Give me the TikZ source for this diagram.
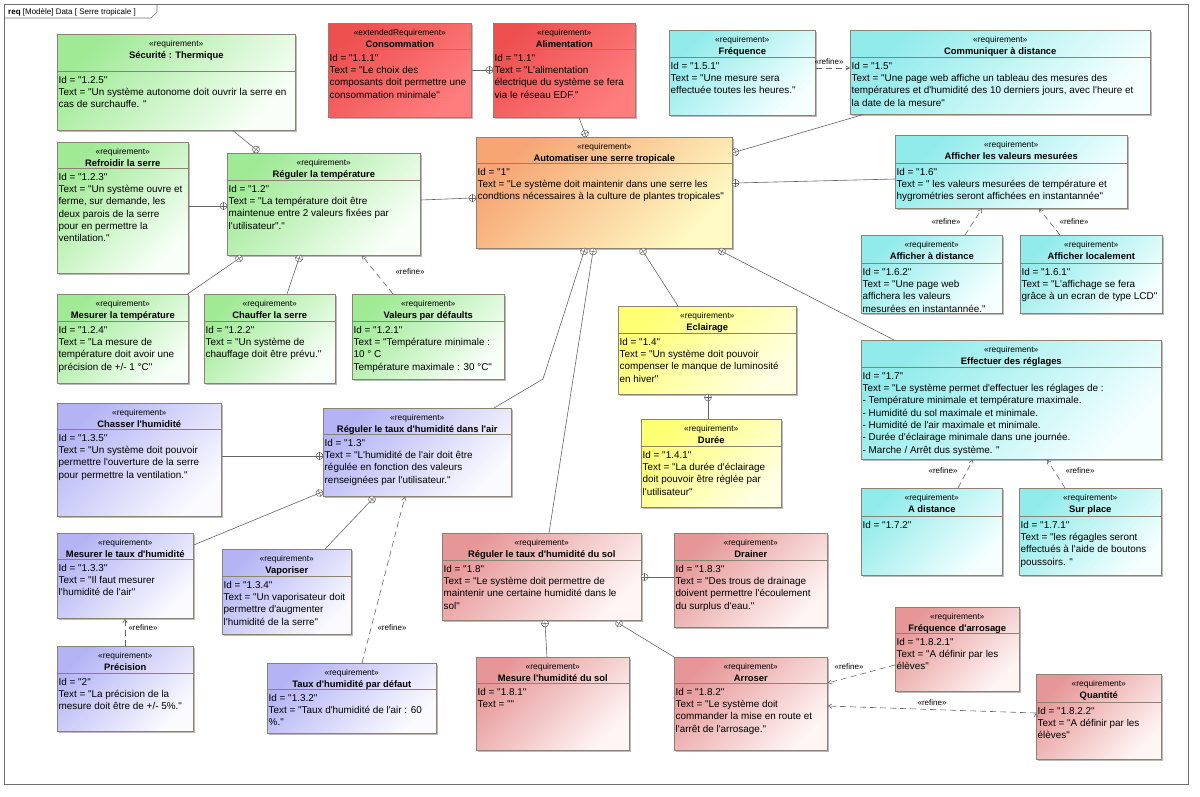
\documentclass[tikz,border=0pt]{standalone}
\usepackage{fontspec}
\newfontfamily\reqfont{Liberation Sans}
\usepackage{tikz}
\usetikzlibrary{arrows,shadows}

\definecolor{boxc}{RGB}{140,130,115}
\definecolor{linec}{RGB}{100,100,100}
\definecolor{framec}{RGB}{110,110,110}
\definecolor{grA}{RGB}{160,234,150}
\definecolor{grB}{RGB}{248,255,248}
\definecolor{rdA}{RGB}{238,80,80}
\definecolor{rdB}{RGB}{255,125,125}
\definecolor{orA}{RGB}{246,165,115}
\definecolor{orB}{RGB}{255,250,195}
\definecolor{cyA}{RGB}{145,235,235}
\definecolor{cyB}{RGB}{245,255,255}
\definecolor{blA}{RGB}{180,180,245}
\definecolor{blB}{RGB}{250,250,255}
\definecolor{ylA}{RGB}{255,255,115}
\definecolor{ylB}{RGB}{255,255,228}
\definecolor{pkA}{RGB}{230,150,150}
\definecolor{pkB}{RGB}{255,245,245}

% name, position, width, height, header, colour, stereotype, title, text
\newcommand{\reqbox}[9]{%
  \node[req,#6,minimum width=#3pt,minimum height=#4pt] (#1) at (#2) {};
  \draw[sep] ([yshift=-#5pt]#1.north west) -- ([yshift=-#5pt]#1.north east);
  \node[stereo] (#1-st) at ([yshift=-12pt]#1.north) {«#7»};
  \node[rtitle] (#1-ti) at ([yshift=-24pt]#1.north) {#8};
  \node[rtext] (#1-tx) at ([xshift=1.5pt,yshift={-(#5pt+3.5pt)}]#1.north west) {\rule{0pt}{8.5pt}#9};
}
\newcommand{\contain}[3]{%
  \node[contain,rotate=#3] (#1) at (#2) {};
  \draw[linec,line width=0.5pt] (#1.north) -- (#1.south) (#1.east) -- (#1.west);
}

\begin{document}
\begin{tikzpicture}[x=1pt,y=-1pt,>=angle 60,
    req/.style={rectangle,draw=boxc,line width=0.6pt,inner sep=0pt,anchor=north west,
      drop shadow={shadow xshift=2pt,shadow yshift=-2pt,fill=black!45,opacity=0.6}},
    sep/.style={draw=boxc,line width=0.6pt},
    reqgreen/.style={top color=grA,bottom color=grB,shading angle=45},
    reqred/.style={top color=rdA,bottom color=rdB,shading angle=45},
    reqorange/.style={top color=orA,bottom color=orB,shading angle=45},
    reqcyan/.style={top color=cyA,bottom color=cyB,shading angle=45},
    reqblue/.style={top color=blA,bottom color=blB,shading angle=45},
    reqyellow/.style={top color=ylA,bottom color=ylB,shading angle=45},
    reqpink/.style={top color=pkA,bottom color=pkB,shading angle=45},
    stereo/.style={anchor=base,inner sep=0pt,font=\reqfont\fontsize{8.4}{9}\selectfont},
    rtitle/.style={anchor=base,inner sep=0pt,font=\reqfont\bfseries\fontsize{9.4}{10}\selectfont},
    rtext/.style={anchor=north west,inner sep=0pt,align=left,font=\reqfont\fontsize{9.9}{12.3}\selectfont},
    contain/.style={circle,draw=linec,fill=white,line width=0.5pt,inner sep=0pt,minimum size=7pt},
    conn/.style={draw=linec,line width=0.6pt},
    refine/.style={draw=linec,line width=0.6pt,dash pattern=on 6pt off 4pt,->},
    refl/.style={inner sep=0pt,font=\reqfont\fontsize{8}{8}\selectfont}]
  \useasboundingbox (0,0) rectangle (1200,796);
  \draw[framec,line width=0.6pt] (4,4) rectangle (1188,784);
  \draw[framec,line width=0.6pt] (4,18) -- (151,18) -- (157,12) -- (157,4);
  \node[anchor=base west,inner sep=0pt,font=\reqfont\fontsize{8}{9}\selectfont] (tab) at (8,14.5)
    {\textbf{req} [Modèle] Data [ Serre tropicale ]};

  \reqbox{secu}{57,34}{238}{96}{37}{reqgreen}{requirement}{Sécurité : Thermique}
    {Id = "1.2.5"\\Text = "Un système autonome doit ouvrir la serre en\\cas de surchauffe. "}
  \reqbox{refroid}{57,142}{131}{131}{26}{reqgreen}{requirement}{Refroidir la serre}
    {Id = "1.2.3"\\Text = "Un système ouvre et\\ferme, sur demande, les\\deux parois de la serre\\pour en permettre la\\ventilation."}
  \reqbox{regtemp}{227,153}{193}{102}{27}{reqgreen}{requirement}{Réguler la température}
    {Id = "1.2"\\Text = "La température doit être\\maintenue entre 2 valeurs fixées par\\l'utilisateur"."}
  \reqbox{mestemp}{57,294}{131}{89}{27}{reqgreen}{requirement}{Mesurer la température}
    {Id = "1.2.4"\\Text = "La mesure de\\température doit avoir une\\précision de +/- 1 °C"}
  \reqbox{chauf}{204,294}{131}{89}{27}{reqgreen}{requirement}{Chauffer la serre}
    {Id = "1.2.2"\\Text = "Un système de\\chauffage doit être prévu."}
  \reqbox{valdef}{352,294}{152}{85}{27}{reqgreen}{requirement}{Valeurs par défaults}
    {Id = "1.2.1"\\Text = "Température minimale :\\10 ° C\\Température maximale : 30 °C"}

  \reqbox{conso}{328,23}{143}{94}{26}{reqred}{extendedRequirement}{Consommation}
    {Id = "1.1.1"\\Text = "Le choix des\\composants doit permettre une\\consommation minimale"}
  \reqbox{alim}{493,23}{142}{94}{26}{reqred}{requirement}{Alimentation}
    {Id = "1.1"\\Text = "L'alimentation\\électrique du système se fera\\via le réseau EDF."}

  \reqbox{auto}{476,137}{256}{111}{26}{reqorange}{requirement}{Automatiser une serre tropicale}
    {Id = "1"\\Text = "Le système doit maintenir dans une serre les\\condtions nécessaires à la culture de plantes tropicales"}

  \reqbox{freq}{669,30}{146}{85}{27}{reqcyan}{requirement}{Fréquence}
    {Id = "1.5.1"\\Text = "Une mesure sera\\effectuée toutes les heures."}
  \reqbox{comm}{850,30}{300}{84}{27}{reqcyan}{requirement}{Communiquer à distance}
    {Id = "1.5"\\Text = "Une page web affiche un tableau des mesures des\\températures et d'humidité des 10 derniers jours, avec l'heure et\\la date de la mesure"}
  \reqbox{affval}{895,135}{232}{73}{28}{reqcyan}{requirement}{Afficher les valeurs mesurées}
    {Id = "1.6"\\Text = " les valeurs mesurées de température et\\hygrométries seront affichées en instantannée"}
  \reqbox{affdist}{861,235}{141}{78}{28}{reqcyan}{requirement}{Afficher à distance}
    {Id = "1.6.2"\\Text = "Une page web\\affichera les valeurs\\mesurées en instantannée."}
  \reqbox{afflocal}{1020,235}{142}{78}{28}{reqcyan}{requirement}{Afficher localement}
    {Id = "1.6.1"\\Text = "L'affichage se fera\\grâce à un ecran de type LCD"}
  \reqbox{effect}{861,340}{300}{119}{27}{reqcyan}{requirement}{Effectuer des réglages}
    {Id = "1.7"\\Text = "Le système permet d'effectuer les réglages de :\\- Température minimale et température maximale.\\- Humidité du sol maximale et minimale.\\- Humidité de l'air maximale et minimale.\\- Durée d'éclairage minimale dans une journée.\\- Marche / Arrêt dus système. "}
  \reqbox{adist}{861,488}{141}{87}{28}{reqcyan}{requirement}{A distance}
    {Id = "1.7.2"}
  \reqbox{surpl}{1019,488}{142}{87}{28}{reqcyan}{requirement}{Sur place}
    {Id = "1.7.1"\\Text = "les régagles seront\\effectués à l'aide de boutons\\poussoirs. "}

  \reqbox{eclair}{618,306}{178}{88}{27}{reqyellow}{requirement}{Eclairage}
    {Id = "1.4"\\Text = "Un système doit pouvoir\\compenser le manque de luminosité\\en hiver"}
  \reqbox{duree}{641,419}{140}{88}{27}{reqyellow}{requirement}{Durée}
    {Id = "1.4.1"\\Text = "La durée d'éclairage\\doit pouvoir être réglée par\\l'utilisateur"}

  \reqbox{chasser}{57,403}{164}{113}{26}{reqblue}{requirement}{Chasser l'humidité}
    {Id = "1.3.5"\\Text = "Un système doit pouvoir\\permettre l'ouverture de la serre\\pour permettre la ventilation."}
  \reqbox{regair}{323,408}{188}{88}{26}{reqblue}{requirement}{Réguler le taux d'humidité dans l'air}
    {Id = "1.3"\\Text = "L'humidité de l'air doit être\\régulée en fonction des valeurs\\renseignées par l'utilisateur."}
  \reqbox{mestaux}{57,533}{136}{85}{26}{reqblue}{requirement}{Mesurer le taux d'humidité}
    {Id = "1.3.3"\\Text = "Il faut mesurer\\l'humidité de l'air"}
  \reqbox{vapor}{222,549}{129}{85}{27}{reqblue}{requirement}{Vaporiser}
    {Id = "1.3.4"\\Text = "Un vaporisateur doit\\permettre d'augmenter\\l'humidité de la serre"}
  \reqbox{precis}{57,646}{136}{85}{27}{reqblue}{requirement}{Précision}
    {Id = "2"\\Text = "La précision de la\\mesure doit être de +/- 5\%."}
  \reqbox{tauxdef}{267,663}{169}{70}{26}{reqblue}{requirement}{Taux d'humidité par défaut}
    {Id = "1.3.2"\\Text = "Taux d'humidité de l'air : 60\\\%."}

  \reqbox{regsol}{442,533}{199}{87}{27}{reqpink}{requirement}{Réguler le taux d'humidité du sol}
    {Id = "1.8"\\Text = "Le système doit permettre de\\maintenir une certaine humidité dans le\\sol"}
  \reqbox{drain}{674,533}{153}{94}{27}{reqpink}{requirement}{Drainer}
    {Id = "1.8.3"\\Text = "Des trous de drainage\\doivent permettre l'écoulement\\du surplus d'eau."}
  \reqbox{mesol}{476,657}{153}{93}{26}{reqpink}{requirement}{Mesure l'humidité du sol}
    {Id = "1.8.1"\\Text = ""}
  \reqbox{arros}{674,657}{153}{93}{26}{reqpink}{requirement}{Arroser}
    {Id = "1.8.2"\\Text = "Le système doit\\commander la mise en route et\\l'arrêt de l'arrosage."}
  \reqbox{freqarr}{895,607}{124}{84}{26}{reqpink}{requirement}{Fréquence d'arrosage}
    {Id = "1.8.2.1"\\Text = "A définir par les\\élèves"}
  \reqbox{quant}{1036,674}{125}{85}{28}{reqpink}{requirement}{Quantité}
    {Id = "1.8.2.2"\\Text = "A définir par les\\élèves"}

  \contain{p1}{256,149.5}{50}
  \contain{p2}{223.5,206}{0}
  \contain{p3}{472.5,198}{0}
  \contain{p4}{489.5,70}{0}
  \contain{p5}{585,133.5}{20}
  \contain{p6}{735.5,152}{17}
  \contain{p7}{735.5,183}{0}
  \contain{p8}{584,251.5}{-18}
  \contain{p9}{593,251.5}{-9}
  \contain{p10}{643,251.5}{33}
  \contain{p11}{722,251.5}{-27}
  \contain{p12}{708,397.5}{0}
  \contain{p13}{239,258.5}{35}
  \contain{p14}{299,258.5}{-18}
  \contain{p15}{319.5,456}{0}
  \contain{p16}{319.5,493}{22}
  \contain{p17}{372,499.5}{47}
  \contain{p18}{644.5,577}{0}
  \contain{p19}{545,623.5}{4}
  \contain{p20}{619,623.5}{-31}
  \coordinate (b8) at (543,379);

  \path[conn]
    (p1) edge ([xshift=176pt]secu.south west)
    (p2) edge ([yshift=-64pt]refroid.north east)
    (p3) edge ([yshift=-47pt]regtemp.north east)
    (p4) edge ([yshift=-47pt]conso.north east)
    (p5) edge ([xshift=86pt]alim.south west)
    (p6) edge ([xshift=13pt]comm.south west)
    (p7) edge ([yshift=-44pt]affval.north west)
    (p9) edge ([xshift=107pt]regsol.north west)
    (p10) edge ([xshift=60pt]eclair.north west)
    (p11) edge ([xshift=33pt]effect.north west)
    (p12) edge ([xshift=67pt]duree.north west)
    (p13) edge ([xshift=-1pt]mestemp.north east)
    (p14) edge ([xshift=83pt]chauf.north west)
    (p15) edge ([yshift=-53pt]chasser.north east)
    (p16) edge ([yshift=-12pt]mestaux.north east)
    (p17) edge ([xshift=103pt]vapor.north west)
    (p18) edge ([yshift=-44pt]drain.north west)
    (p19) edge ([xshift=71pt]mesol.north west)
    (p20) edge (arros.north west);
  \draw[conn] (p8) -- (b8) -- ([xshift=171pt]regair.north west);

  \path[refine]
    ([yshift=-38pt]freq.north east) edge ([yshift=-38pt]comm.north west)
    ([xshift=104pt]affdist.north west) edge ([xshift=87pt]affval.south west)
    ([xshift=40pt]afflocal.north west) edge ([xshift=144pt]affval.south west)
    ([xshift=97pt]adist.north west) edge ([xshift=112pt]effect.south west)
    ([xshift=46pt]surpl.north west) edge ([xshift=186pt]effect.south west)
    ([xshift=41pt]valdef.north west) edge ([xshift=135pt]regtemp.south west)
    ([xshift=95pt]tauxdef.north west) edge ([xshift=82pt]regair.south west)
    ([xshift=68pt]precis.north west) edge ([xshift=68pt]mestaux.south west)
    ([yshift=-58pt]freqarr.north west) edge ([yshift=-26pt]arros.north east)
    ([yshift=-39pt]quant.north west) edge ([yshift=-49pt]arros.north east);

  \node[refl] (r1) at (829,62) {«refine»};
  \node[refl] (r2) at (946,222) {«refine»};
  \node[refl] (r3) at (1074,222) {«refine»};
  \node[refl] (r4) at (943,471) {«refine»};
  \node[refl] (r5) at (1080,471) {«refine»};
  \node[refl] (r6) at (410,272) {«refine»};
  \node[refl] (r7) at (392,628) {«refine»};
  \node[refl] (r8) at (143,628) {«refine»};
  \node[refl] (r9) at (849,667) {«refine»};
  \node[refl] (r10) at (932,703) {«refine»};
\end{tikzpicture}
\end{document}
